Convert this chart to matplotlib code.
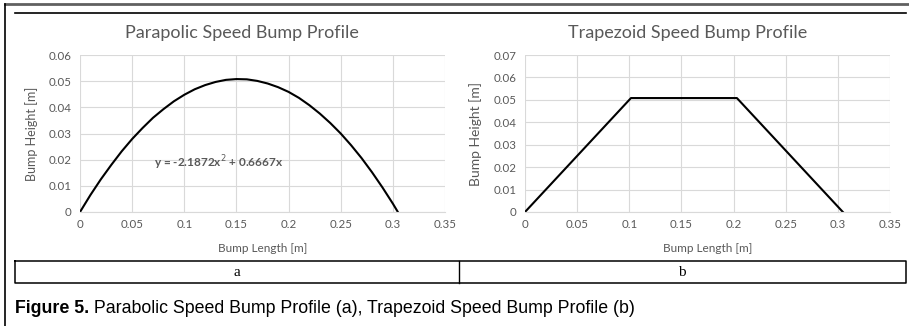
import numpy as np
from matplotlib import pyplot as plt

# Parabolic profile (x in m, y in m)
paraX = [0, 0.01, 0.02, 0.03, 0.04, 0.05, 0.06, 0.07, 0.08, 0.09, 0.10,
         0.11, 0.12, 0.13, 0.14, 0.15, 0.16, 0.17, 0.18, 0.19, 0.20,
         0.21, 0.22, 0.23, 0.24, 0.25, 0.26, 0.27, 0.28, 0.29, 0.30, 0.3048]
paraY = [0, 0.0065, 0.0125, 0.0180, 0.0232, 0.0279, 0.0321, 0.0360, 0.0393,
         0.0423, 0.0448, 0.0469, 0.0485, 0.0497, 0.0505, 0.0508, 0.0507,
         0.0501, 0.0491, 0.0477, 0.0459, 0.0436, 0.0408, 0.0376, 0.0340,
         0.0300, 0.0255, 0.0206, 0.0152, 0.0094, 0.0032, 0]

# Trapezoid profile
trapX = [0, 0.1016, 0.2032, 0.3048]
trapY = [0, 0.0508, 0.0508, 0]

xTicks  = [0, 0.05, 0.1, 0.15, 0.2, 0.25, 0.3, 0.35]
yTicksA = [0, 0.01, 0.02, 0.03, 0.04, 0.05, 0.06]
yTicksB = [0, 0.01, 0.02, 0.03, 0.04, 0.05, 0.06, 0.07]

titleA   = 'Parapolic Speed Bump Profile'
titleB   = 'Trapezoid Speed Bump Profile'
equation = 'y = -2.1872x$^{2}$ + 0.6667x'
panelTags = ['a', 'b']
capBold  = 'Figure 5.'
capText  = ' Parabolic Speed Bump Profile (a), Trapezoid Speed Bump Profile (b)'

W, H = 909, 326
grey  = '#595959'
gridC = '#d9d9d9'
chartFont = 'Lato'
capFont = ['Liberation Sans Narrow', 'Liberation Sans']

fig = plt.figure(figsize=(W/100, H/100), dpi=100)

# Overlay in pixel coordinates for the page frame, table and caption
page = fig.add_axes([0, 0, 1, 1])
page.set_xlim(0, W)
page.set_ylim(H, 0)
page.axis('off')
page.plot([5, W], [4, 4], color='#606060', lw=2)
page.plot([5, 5], [4, H], color='black', lw=1.2)
page.plot([15, 906], [13, 13], color='black', lw=1.2)
page.plot([15, 906, 906, 15, 15], [261, 261, 283, 283, 261], color='black', lw=1.1)
page.plot([459, 459], [261, 283], color='black', lw=1.0)
page.text(237, 272, panelTags[0], ha='center', va='center', fontsize=11,
          family='Liberation Serif')
page.text(682, 272, panelTags[1], ha='center', va='center', fontsize=11,
          family='Liberation Serif')
t1 = page.text(15, 313, capBold, ha='left', va='baseline', fontsize=12.8,
               fontweight='bold', family=capFont)
page.annotate(capText, xy=(1, 0), xycoords=t1, va='bottom', ha='left',
              fontsize=12.8, family=capFont)

def styleAxis(ax, yTicks, ylabelSize):
    ax.set_xlim(0, 0.35)
    ax.set_ylim(0, yTicks[-1])
    ax.set_xticks(xTicks)
    ax.set_yticks(yTicks)
    ax.set_xticklabels(['{0:g}'.format(v) for v in xTicks])
    ax.set_yticklabels(['{0:g}'.format(v) for v in yTicks])
    ax.grid(True, color=gridC, lw=0.8)
    ax.set_axisbelow(True)
    for s in ['top', 'right', 'left']:
        ax.spines[s].set_visible(False)
    ax.spines['bottom'].set_color(gridC)
    ax.tick_params(length=0, colors=grey, labelsize=8.3)
    ax.tick_params(axis='x', pad=5)
    ax.tick_params(axis='y', pad=6)
    for lab in ax.get_xticklabels() + ax.get_yticklabels():
        lab.set_family(chartFont)
    ax.set_xlabel('Bump Length [m]', color=grey, fontsize=8.5, family=chartFont)
    ax.set_ylabel('Bump Height [m]', color=grey, fontsize=ylabelSize, family=chartFont)
    ax.xaxis.set_label_coords(0.5, -0.197)

axA = fig.add_axes([80/W, 1-212/H, 365/W, 157/H])
styleAxis(axA, yTicksA, 9)
axA.yaxis.set_label_coords(-0.115, 0.5)
axA.plot(paraX, paraY, color='black', lw=1.5)
axA.text(0.133, 0.0187, equation, ha='center', va='center', color=grey,
         fontsize=8.5, fontweight='bold', family=chartFont)

axB = fig.add_axes([525/W, 1-212/H, 365/W, 157/H])
styleAxis(axB, yTicksB, 10)
axB.yaxis.set_label_coords(-0.118, 0.5)
axB.plot(trapX, trapY, color='black', lw=1.5)

page.text(242, 33, titleA, ha='center', va='center', color=grey,
          fontsize=13, family=chartFont)
page.text(688, 33, titleB, ha='center', va='center', color=grey,
          fontsize=13, family=chartFont)

fig.savefig('out.png', dpi=100)
